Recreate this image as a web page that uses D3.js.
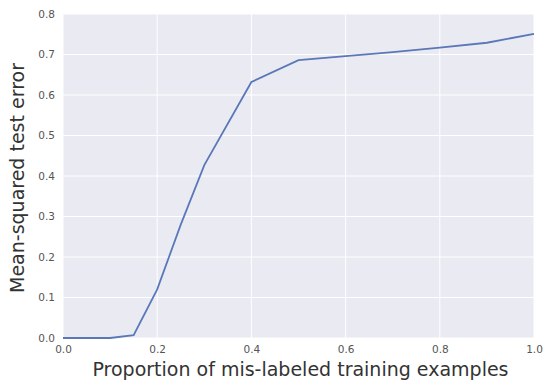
<!DOCTYPE html>
<html>
<head>
<meta charset="utf-8">
<script src="https://cdn.jsdelivr.net/npm/d3@7"></script>
<style>
  body { margin: 0; background: #fff; }
  svg { display: block; font-family: "DejaVu Sans", sans-serif; }
</style>
</head>
<body>
<div id="chart"></div>
<script>
// proportion of mis-labeled examples vs test error
const proportions = [0, 0.05, 0.1, 0.15, 0.2, 0.25, 0.3, 0.4, 0.5, 0.6, 0.7, 0.8, 0.9, 1.0];
const errors = [0, 0, 0, 0.007, 0.12, 0.28, 0.427, 0.632, 0.686, 0.696, 0.706, 0.717, 0.729, 0.751];
const xTicks = [0, 0.2, 0.4, 0.6, 0.8, 1.0];
const yTicks = [0, 0.1, 0.2, 0.3, 0.4, 0.5, 0.6, 0.7, 0.8];

const W = 547, H = 382;
const margin = { top: 14, right: 13, bottom: 44, left: 63 };
const width = W - margin.left - margin.right;
const height = H - margin.top - margin.bottom;

const svg = d3.select("#chart").append("svg")
  .attr("width", W).attr("height", H);

const g = svg.append("g")
  .attr("transform", `translate(${margin.left},${margin.top})`);

const x = d3.scaleLinear().domain([0, 1]).range([0, width]);
const y = d3.scaleLinear().domain([0, 0.8]).range([height, 0]);

// background
g.append("rect").attr("width", width).attr("height", height).attr("fill", "#eaeaf2");

// grid
g.selectAll(".gx").data(xTicks).join("line")
  .attr("x1", d => x(d)).attr("x2", d => x(d))
  .attr("y1", 0).attr("y2", height)
  .attr("stroke", "#fff").attr("stroke-width", 1);
g.selectAll(".gy").data(yTicks).join("line")
  .attr("y1", d => y(d)).attr("y2", d => y(d))
  .attr("x1", 0).attr("x2", width)
  .attr("stroke", "#fff").attr("stroke-width", 1);

// axes (no lines, labels only)
const xAxis = g.append("g").attr("transform", `translate(0,${height})`)
  .call(d3.axisBottom(x).tickValues(xTicks).tickFormat(d3.format(".1f")).tickSize(0).tickPadding(8));
const yAxis = g.append("g")
  .call(d3.axisLeft(y).tickValues(yTicks).tickFormat(d3.format(".1f")).tickSize(0).tickPadding(8));
[xAxis, yAxis].forEach(a => {
  a.select(".domain").remove();
  a.selectAll("text").attr("fill", "#555").style("font-size", "10.5px")
    .style("font-family", "'DejaVu Sans', sans-serif");
});

// line
const line = d3.line().x((d, i) => x(proportions[i])).y(d => y(d));
g.append("path").datum(errors)
  .attr("fill", "none")
  .attr("stroke", "#5a78b8")
  .attr("stroke-width", 1.8)
  .attr("d", line);

// axis labels
svg.append("text")
  .attr("x", margin.left + width / 2 + 2).attr("y", H - 6)
  .attr("text-anchor", "middle")
  .attr("fill", "#333").style("font-size", "19px")
  .text("Proportion of mis-labeled training examples");

svg.append("text")
  .attr("transform", `translate(24,${margin.top + height / 2 + 2}) rotate(-90)`)
  .attr("text-anchor", "middle")
  .attr("fill", "#333").style("font-size", "19px")
  .text("Mean-squared test error");
</script>
</body>
</html>
